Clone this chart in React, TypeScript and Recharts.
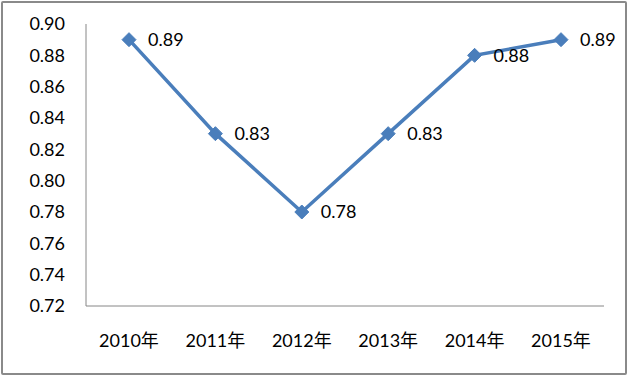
import React from 'react';
import { LineChart, Line, XAxis, YAxis, LabelList } from 'recharts';

const years = ['2010年', '2011年', '2012年', '2013年', '2014年', '2015年'];
const values = [0.89, 0.83, 0.78, 0.83, 0.88, 0.89];
const yTicks = [0.72, 0.74, 0.76, 0.78, 0.8, 0.82, 0.84, 0.86, 0.88, 0.9];

const data = years.map((y, i) => ({ year: y, value: values[i] }));

const FONT = 'Lato, "Noto Sans CJK SC", sans-serif';

const Diamond = (props: any) => {
  const { cx, cy } = props;
  if (cx == null || cy == null) return null;
  const r = 7;
  return (
    <path
      d={`M${cx},${cy - r} L${cx + r},${cy} L${cx},${cy + r} L${cx - r},${cy} Z`}
      fill="#4A7EBB"
      stroke="#4A7EBB"
    />
  );
};

export default function App() {
  return (
    <div
      style={{
        position: 'absolute',
        left: 0,
        top: 0,
        width: 628,
        height: 376,
        background: '#fff',
      }}
    >
      <div
        style={{
          position: 'absolute',
          left: 1,
          top: 1,
          width: 622,
          height: 370,
          border: '2px solid #8a8a8a',
          borderRadius: 2,
          pointerEvents: 'none',
        }}
      />
      <LineChart
        width={628}
        height={376}
        data={data}
        margin={{ top: 24, right: 24, bottom: 40, left: 0 }}
      >
        <XAxis
          dataKey="year"
          height={30}
          padding={{ left: 43, right: 43 }}
          tickLine={false}
          axisLine={{ stroke: '#868686', strokeWidth: 1 }}
          tick={{ fill: '#000', fontSize: 18, fontFamily: FONT }}
          tickMargin={22}
          interval={0}
        />
        <YAxis
          width={86}
          domain={[0.72, 0.9]}
          ticks={yTicks}
          tickFormatter={(v: number) => v.toFixed(2)}
          tickLine={false}
          axisLine={{ stroke: '#868686', strokeWidth: 1 }}
          tick={{ fill: '#000', fontSize: 18, fontFamily: FONT }}
          tickMargin={15}
          interval={0}
        />
        <Line
          type="linear"
          dataKey="value"
          stroke="#4A7EBB"
          strokeWidth={3.5}
          dot={<Diamond />}
          activeDot={false}
          isAnimationActive={false}
        >
          <LabelList
            dataKey="value"
            position="right"
            offset={19}
            formatter={(v: number) => v.toFixed(2)}
            style={{ fill: '#000', fontSize: 18, fontFamily: FONT }}
          />
        </Line>
      </LineChart>
    </div>
  );
}
